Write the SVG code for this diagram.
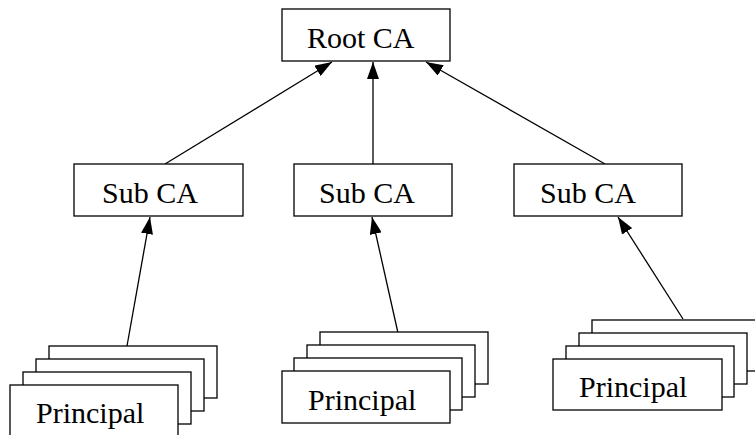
<svg xmlns="http://www.w3.org/2000/svg" width="755" height="435" viewBox="0 0 755 435">
<style>
.box{fill:#fff;stroke:#000;stroke-width:1.3}
.lbl{font-family:"Liberation Serif","Times New Roman",serif;font-size:30px;fill:#000}
.edge{stroke:#000;stroke-width:1.3;fill:none;marker-end:url(#arr)}
</style>
<defs>
<marker id="arr" markerUnits="userSpaceOnUse" markerWidth="17" markerHeight="12" viewBox="0 0 17 12" refX="17" refY="6" orient="auto">
<path d="M0,0 L17,6 L0,12 z" fill="#000"/>
</marker>
</defs>
<rect width="755" height="435" fill="#fff"/>
<g id="connectors">
<line class="edge" x1="165" y1="164" x2="332" y2="62"/>
<line class="edge" x1="373" y1="164" x2="373" y2="62"/>
<line class="edge" x1="605" y1="164" x2="426" y2="62"/>
<line class="edge" x1="127" y1="346" x2="150" y2="217"/>
<line class="edge" x1="398" y1="333" x2="372" y2="217"/>
<line class="edge" x1="683" y1="319" x2="618" y2="217"/>
</g>
<g id="root">
<rect class="box" x="282" y="9" width="168" height="52"/>
<text class="lbl" x="307" y="48">Root CA</text>
</g>
<g id="sub1">
<rect class="box" x="74" y="164" width="169" height="52"/>
<text class="lbl" x="102" y="203">Sub CA</text>
</g>
<g id="sub2">
<rect class="box" x="294" y="164" width="158" height="52"/>
<text class="lbl" x="319" y="203">Sub CA</text>
</g>
<g id="sub3">
<rect class="box" x="514" y="164" width="168" height="52"/>
<text class="lbl" x="540" y="203">Sub CA</text>
</g>
<g id="principal1">
<rect class="box" x="49" y="346" width="168" height="52"/>
<rect class="box" x="36" y="359" width="168" height="52"/>
<rect class="box" x="23" y="372" width="168" height="52"/>
<rect class="box" x="10" y="385" width="168" height="52"/>
<text class="lbl" x="36" y="423">Principal</text>
</g>
<g id="principal2">
<rect class="box" x="320" y="332" width="168" height="52"/>
<rect class="box" x="307" y="345" width="168" height="52"/>
<rect class="box" x="294" y="358" width="168" height="52"/>
<rect class="box" x="282" y="371" width="168" height="52"/>
<text class="lbl" x="308" y="410">Principal</text>
</g>
<g id="principal3">
<rect class="box" x="592" y="320" width="168" height="51"/>
<rect class="box" x="579" y="333" width="168" height="51"/>
<rect class="box" x="566" y="346" width="168" height="51"/>
<rect class="box" x="553" y="359" width="169" height="51"/>
<text class="lbl" x="579" y="397">Principal</text>
</g>
</svg>
